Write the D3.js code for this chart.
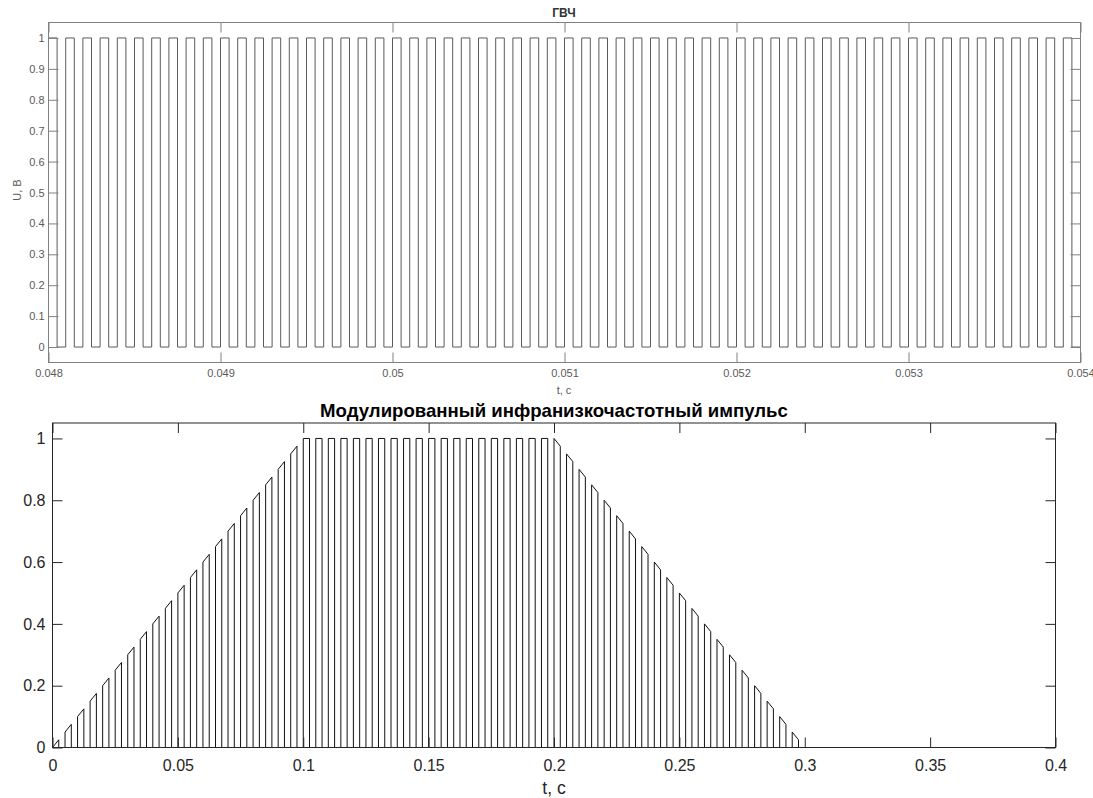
<!DOCTYPE html>
<html>
<head>
<meta charset="utf-8">
<script src="https://cdn.jsdelivr.net/npm/d3@7"></script>
<style>
  body { margin: 0; background: #fff; }
  svg { display: block; font-family: "Liberation Sans", Arial, sans-serif; }
</style>
</head>
<body>
<svg id="chart" width="1093" height="798"></svg>
<script>
// ---------- Top chart data: ГВЧ carrier (pulse on / off times, s) ----------
const carrierOn = [
  0.0480,0.0481,0.0482,0.0483,0.0484,0.0485,0.0486,0.0487,0.0488,0.0489,
  0.0490,0.0491,0.0492,0.0493,0.0494,0.0495,0.0496,0.0497,0.0498,0.0499,
  0.0500,0.0501,0.0502,0.0503,0.0504,0.0505,0.0506,0.0507,0.0508,0.0509,
  0.0510,0.0511,0.0512,0.0513,0.0514,0.0515,0.0516,0.0517,0.0518,0.0519,
  0.0520,0.0521,0.0522,0.0523,0.0524,0.0525,0.0526,0.0527,0.0528,0.0529,
  0.0530,0.0531,0.0532,0.0533,0.0534,0.0535,0.0536,0.0537,0.0538,0.0539
];
const carrierOff = [
  0.04805,0.04815,0.04825,0.04835,0.04845,0.04855,0.04865,0.04875,0.04885,0.04895,
  0.04905,0.04915,0.04925,0.04935,0.04945,0.04955,0.04965,0.04975,0.04985,0.04995,
  0.05005,0.05015,0.05025,0.05035,0.05045,0.05055,0.05065,0.05075,0.05085,0.05095,
  0.05105,0.05115,0.05125,0.05135,0.05145,0.05155,0.05165,0.05175,0.05185,0.05195,
  0.05205,0.05215,0.05225,0.05235,0.05245,0.05255,0.05265,0.05275,0.05285,0.05295,
  0.05305,0.05315,0.05325,0.05335,0.05345,0.05355,0.05365,0.05375,0.05385,0.05395
];
const carrierLevel = 1;
const topXTicks = [0.048,0.049,0.05,0.051,0.052,0.053,0.054];
const topXTickLabels = ["0.048","0.049","0.05","0.051","0.052","0.053","0.054"];
const topYTicks = [0,0.1,0.2,0.3,0.4,0.5,0.6,0.7,0.8,0.9,1];
const topYTickLabels = ["0","0.1","0.2","0.3","0.4","0.5","0.6","0.7","0.8","0.9","1"];

// ---------- Bottom chart data: modulated pulse ----------
const pulseStart = [
  0,0.005,0.01,0.015,0.02,0.025,0.03,0.035,0.04,0.045,
  0.05,0.055,0.06,0.065,0.07,0.075,0.08,0.085,0.09,0.095,
  0.1,0.105,0.11,0.115,0.12,0.125,0.13,0.135,0.14,0.145,
  0.15,0.155,0.16,0.165,0.17,0.175,0.18,0.185,0.19,0.195,
  0.2,0.205,0.21,0.215,0.22,0.225,0.23,0.235,0.24,0.245,
  0.25,0.255,0.26,0.265,0.27,0.275,0.28,0.285,0.29,0.295
];
const pulseEnd = [
  0.0025,0.0075,0.0125,0.0175,0.0225,0.0275,0.0325,0.0375,0.0425,0.0475,
  0.0525,0.0575,0.0625,0.0675,0.0725,0.0775,0.0825,0.0875,0.0925,0.0975,
  0.1025,0.1075,0.1125,0.1175,0.1225,0.1275,0.1325,0.1375,0.1425,0.1475,
  0.1525,0.1575,0.1625,0.1675,0.1725,0.1775,0.1825,0.1875,0.1925,0.1975,
  0.2025,0.2075,0.2125,0.2175,0.2225,0.2275,0.2325,0.2375,0.2425,0.2475,
  0.2525,0.2575,0.2625,0.2675,0.2725,0.2775,0.2825,0.2875,0.2925,0.2975
];
const ampStart = [
  0,0.05,0.1,0.15,0.2,0.25,0.3,0.35,0.4,0.45,
  0.5,0.55,0.6,0.65,0.7,0.75,0.8,0.85,0.9,0.95,
  1,1,1,1,1,1,1,1,1,1,
  1,1,1,1,1,1,1,1,1,1,
  1,0.95,0.9,0.85,0.8,0.75,0.7,0.65,0.6,0.55,
  0.5,0.45,0.4,0.35,0.3,0.25,0.2,0.15,0.1,0.05
];
const ampEnd = [
  0.025,0.075,0.125,0.175,0.225,0.275,0.325,0.375,0.425,0.475,
  0.525,0.575,0.625,0.675,0.725,0.775,0.825,0.875,0.925,0.975,
  1,1,1,1,1,1,1,1,1,1,
  1,1,1,1,1,1,1,1,1,1,
  0.975,0.925,0.875,0.825,0.775,0.725,0.675,0.625,0.575,0.525,
  0.475,0.425,0.375,0.325,0.275,0.225,0.175,0.125,0.075,0.025
];
const botXTicks = [0,0.05,0.1,0.15,0.2,0.25,0.3,0.35,0.4];
const botXTickLabels = ["0","0.05","0.1","0.15","0.2","0.25","0.3","0.35","0.4"];
const botYTicks = [0,0.2,0.4,0.6,0.8,1];
const botYTickLabels = ["0","0.2","0.4","0.6","0.8","1"];

const svg = d3.select("#chart");

function drawAxes(g, x, y, xt, xl, yt, yl, o) {
  const [x0, x1] = x.range();
  const [y0, y1] = y.range(); // y0 bottom, y1 top
  const tl = 10;
  const ax = g.append("g").attr("transform", `translate(0,${y0})`)
    .call(d3.axisBottom(x).tickValues(xt).tickFormat((d, i) => xl[i])
      .tickSizeInner(-tl).tickSizeOuter(0).tickPadding(o.xPad));
  const ay = g.append("g").attr("transform", `translate(${x0},0)`)
    .call(d3.axisLeft(y).tickValues(yt).tickFormat((d, i) => yl[i])
      .tickSizeInner(-tl).tickSizeOuter(0).tickPadding(o.yPad));
  const at = g.append("g").attr("transform", `translate(0,${y1})`)
    .call(d3.axisTop(x).tickValues(xt).tickFormat("").tickSizeInner(-tl).tickSizeOuter(0));
  const ar = g.append("g").attr("transform", `translate(${x1},0)`)
    .call(d3.axisRight(y).tickValues(yt).tickFormat("").tickSizeInner(-tl).tickSizeOuter(0));
  [ax, ay, at, ar].forEach(a => {
    a.select(".domain").remove();
    a.selectAll("line").attr("stroke", o.axisColor).attr("stroke-width", 1);
    a.selectAll("text").attr("fill", o.textColor).attr("font-size", o.fontSize)
      .attr("font-family", "Liberation Sans, Arial, sans-serif");
  });
  g.append("rect").attr("x", x0).attr("y", y1).attr("width", x1 - x0).attr("height", y0 - y1)
    .attr("fill", "none").attr("stroke", o.axisColor).attr("stroke-width", 1);
}

// ---------- Top chart ----------
{
  const g = svg.append("g");
  const x = d3.scaleLinear().domain([0.048, 0.054]).range([48.5, 1080.5]);
  const y = d3.scaleLinear().domain([-0.05, 1.05]).range([362.5, 22.5]);
  const pts = [];
  carrierOn.forEach((t, i) => {
    pts.push([t, 0], [t, carrierLevel], [carrierOff[i], carrierLevel], [carrierOff[i], 0]);
  });
  pts.push([0.054, 0]);
  g.append("path").attr("d", d3.line().x(d => x(d[0])).y(d => y(d[1]))(pts))
    .attr("fill", "none").attr("stroke", "#5a5a5a").attr("stroke-width", 1);
  drawAxes(g, x, y, topXTicks, topXTickLabels, topYTicks, topYTickLabels,
    { xPad: 7, yPad: 4, axisColor: "#808080", textColor: "#5a5a5a", fontSize: "11px" });
  g.append("text").attr("x", 564).attr("y", 17).attr("text-anchor", "middle")
    .attr("font-size", "12px").attr("font-weight", "bold").attr("fill", "#333").text("ГВЧ");
  g.append("text").attr("x", 564).attr("y", 394).attr("text-anchor", "middle")
    .attr("font-size", "11px").attr("fill", "#5a5a5a").text("t, c");
  g.append("text").attr("transform", "translate(21,190) rotate(-90)").attr("text-anchor", "middle")
    .attr("font-size", "11px").attr("fill", "#5a5a5a").text("U, В");
}

// ---------- Bottom chart ----------
{
  const g = svg.append("g");
  const x = d3.scaleLinear().domain([0, 0.4]).range([52.5, 1055.5]);
  const y = d3.scaleLinear().domain([0, 1.05]).range([747.5, 423]);
  const pts = [[0, 0]];
  pulseStart.forEach((t, i) => {
    pts.push([t, 0], [t, ampStart[i]], [pulseEnd[i], ampEnd[i]], [pulseEnd[i], 0]);
  });
  pts.push([0.4, 0]);
  g.append("path").attr("d", d3.line().x(d => x(d[0])).y(d => y(d[1]))(pts))
    .attr("fill", "none").attr("stroke", "#111").attr("stroke-width", 1);
  drawAxes(g, x, y, botXTicks, botXTickLabels, botYTicks, botYTickLabels,
    { xPad: 12, yPad: 7, axisColor: "#262626", textColor: "#262626", fontSize: "16px" });
  g.append("text").attr("x", 554).attr("y", 417).attr("text-anchor", "middle")
    .attr("font-size", "18.6px").attr("font-weight", "bold").attr("fill", "#000")
    .text("Модулированный инфранизкочастотный импульс");
  g.append("text").attr("x", 554).attr("y", 794).attr("text-anchor", "middle")
    .attr("font-size", "17.6px").attr("fill", "#262626").text("t, c");
}
</script>
</body>
</html>
